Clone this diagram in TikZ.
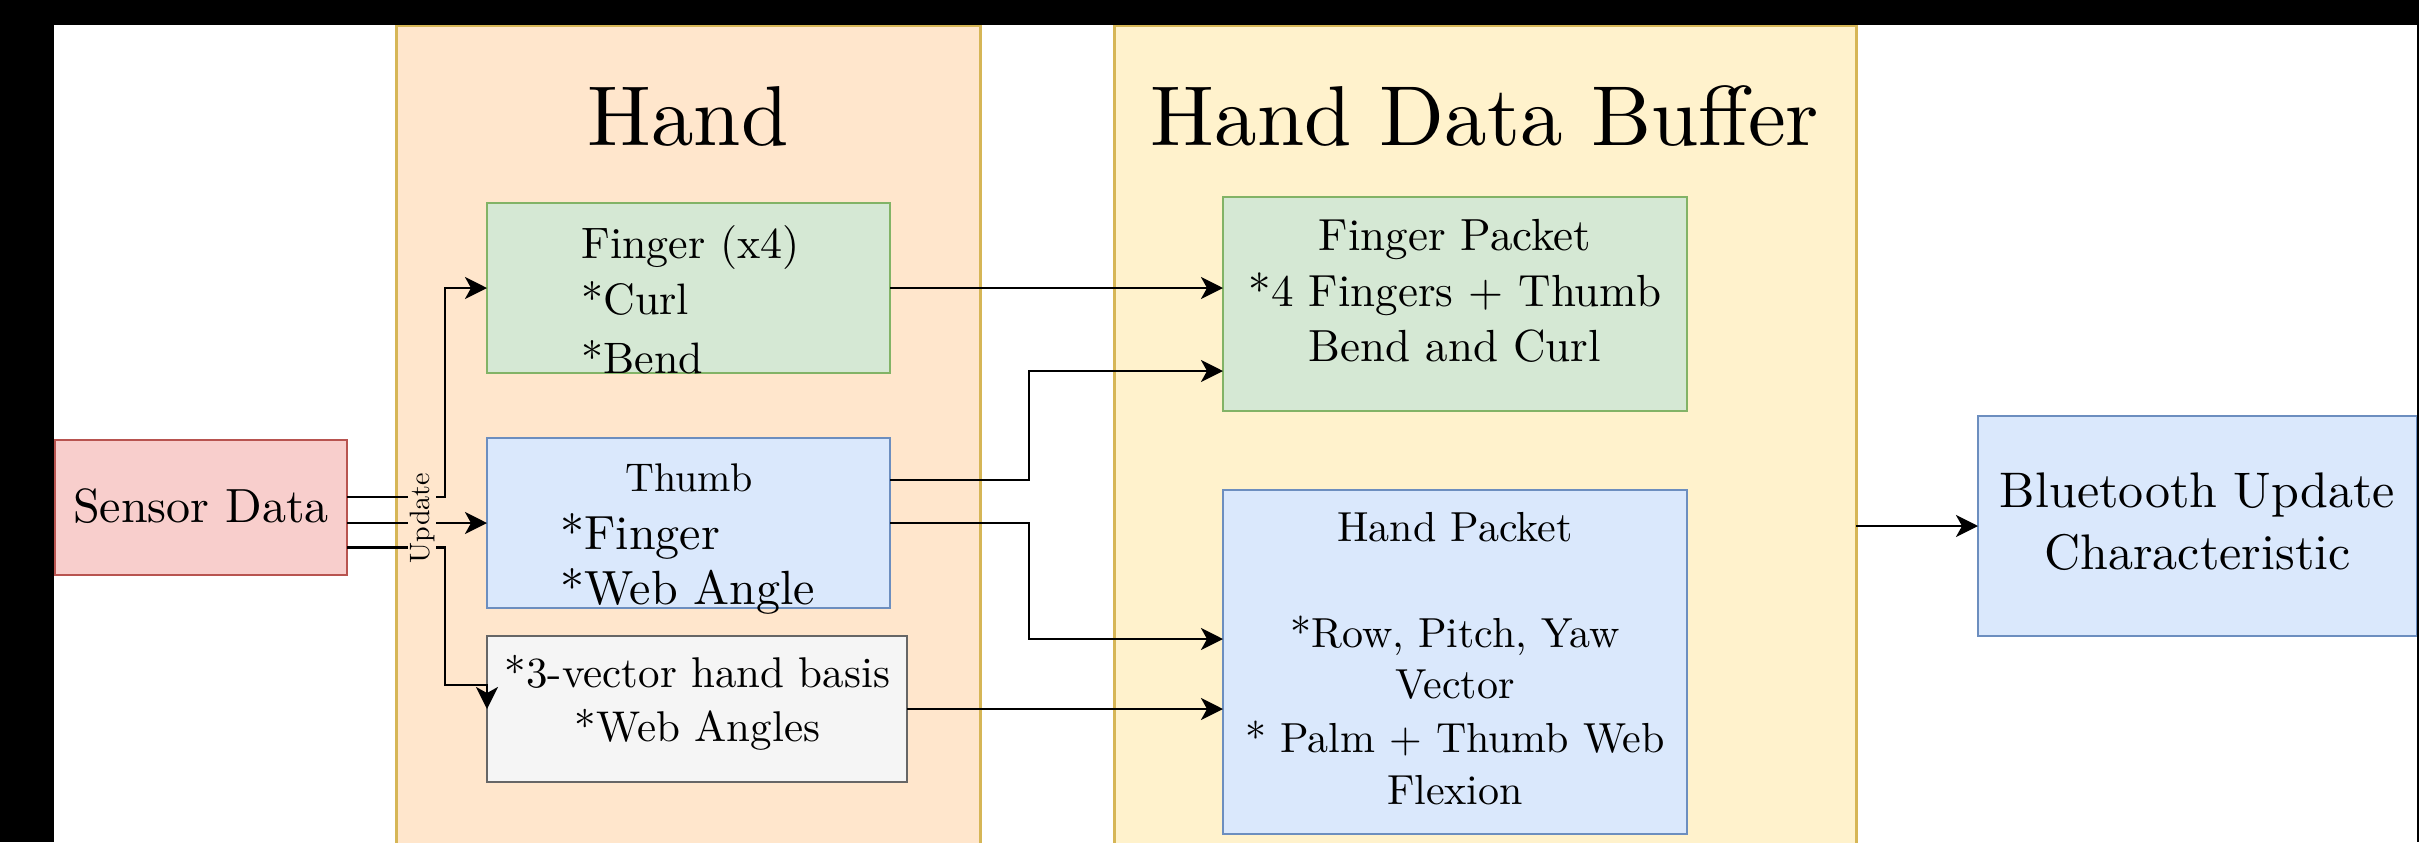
\documentclass[tikz,border=0pt]{standalone}
\usepackage{fontspec}
\setmainfont{lmroman10-regular}[Extension=.otf]
\usetikzlibrary{arrows.meta,calc}
\definecolor{handfill}{HTML}{FFE6CC}
\definecolor{bufffill}{HTML}{FFF2CC}
\definecolor{contdraw}{HTML}{D6B656}
\definecolor{greenfill}{HTML}{D5E8D4}
\definecolor{greendraw}{HTML}{82B366}
\definecolor{bluefill}{HTML}{DAE8FC}
\definecolor{bluedraw}{HTML}{6C8EBF}
\definecolor{redfill}{HTML}{F8CECC}
\definecolor{reddraw}{HTML}{B85450}
\definecolor{grayfill}{HTML}{F5F5F5}
\definecolor{graydraw}{HTML}{666666}
\newcommand{\fs}[1]{\fontsize{#1pt}{#1pt}\selectfont}
\tikzset{
  box/.style={rectangle, inner sep=0pt, outer sep=0pt, line width=1pt},
  cont/.style={box, line width=1.5pt, draw=contdraw},
  greenbox/.style={box, draw=greendraw, fill=greenfill},
  bluebox/.style={box, draw=bluedraw, fill=bluefill},
  redbox/.style={box, draw=reddraw, fill=redfill},
  graybox/.style={box, draw=graydraw, fill=grayfill},
  conn/.style={line width=1.4pt, -{Stealth[length=11pt,width=11pt,inset=3pt]}},
  txt/.style={anchor=base, inner sep=0pt},
  ltxt/.style={anchor=base west, inner sep=0pt},
}
\begin{document}
\begin{tikzpicture}[x=0.5pt,y=-0.5pt]
\clip (0,0) rectangle (2419,842);
\fill[white] (0,0) rectangle (2419,842);
% containers
\node[cont, fill=handfill, minimum width=292pt, minimum height=427.5pt] (hand) at (688,452.5) {};
\node[cont, fill=bufffill, minimum width=371pt, minimum height=427.5pt] (hdb) at (1485,452.5) {};
\node[txt, font={\fs{42.5}}] (handtitle) at (688,145) {Hand};
\node[txt, font={\fs{42.5}}] (hdbtitle) at (1485,145) {Hand Data Buffer};
% boxes
\node[redbox, minimum width=146pt, minimum height=67.5pt] (sensor) at (201,507.5) {};
\node[txt, font={\fs{24}}] (sensortxt) at (201,522) {Sensor Data};

\node[greenbox, minimum width=201.5pt, minimum height=85pt] (finger) at (688.5,288) {};
\node[ltxt, font={\fs{22}}] (f1) at (581,258) {Finger (x4)};
\node[ltxt, font={\fs{22}}] (f2) at (581,314) {*Curl};
\node[ltxt, font={\fs{22}}] (f3) at (581,373) {*Bend};

\node[bluebox, minimum width=201.5pt, minimum height=85pt] (thumb) at (688.5,523) {};
\node[txt, font={\fs{20}}] (t1txt) at (689,491) {Thumb};
\node[ltxt, font={\fs{24}}] (t2txt) at (560,549) {*Finger};
\node[ltxt, font={\fs{24}}] (t3txt) at (560,604) {*Web Angle};

\node[graybox, minimum width=210pt, minimum height=73pt] (gray) at (697,709) {};
\node[txt, font={\fs{21.5}}] (g1) at (697.5,687) {*3-vector hand basis};
\node[txt, font={\fs{21.5}}] (g2) at (697.5,741) {*Web Angles};

\node[greenbox, minimum width=232pt, minimum height=107pt] (fp) at (1455,304) {};
\node[txt, font={\fs{22.5}}] (fp1) at (1455,250) {Finger Packet};
\node[txt, font={\fs{22.5}}] (fp2) at (1455,306) {*4 Fingers + Thumb};
\node[txt, font={\fs{22.5}}] (fp3) at (1455,361) {Bend and Curl};

\node[bluebox, minimum width=232pt, minimum height=172pt] (hp) at (1455,662) {};
\node[txt, font={\fs{21}}] (hp1) at (1455,541) {Hand Packet};
\node[txt, font={\fs{21}}] (hp2) at (1455,647) {*Row, Pitch, Yaw};
\node[txt, font={\fs{21}}] (hp3) at (1455,698) {Vector};
\node[txt, font={\fs{21}}] (hp4) at (1455,752) {* Palm + Thumb Web};
\node[txt, font={\fs{21}}] (hp5) at (1455,804) {Flexion};

\node[bluebox, minimum width=219.5pt, minimum height=110pt] (bt) at (2197.5,526) {};
\node[txt, font={\fs{25}}] (bt1) at (2197.5,507) {Bluetooth Update};
\node[txt, font={\fs{25}}] (bt2) at (2197.5,569) {Characteristic};

% connectors
\coordinate (s1) at ($(sensor.east)+(0,-10.5)$);
\coordinate (s2) at ($(sensor.east)+(0,15.5)$);
\coordinate (s3) at ($(sensor.east)+(0,40)$);
\coordinate (vx) at (445,0);
\coordinate (bend3) at (445,685);
\draw[conn] (s1) -- (s1 -| vx) |- (finger.west);
\draw[conn] (s2) -- (s2 -| thumb.west);
\draw[conn] (s3) -| (bend3) -| (gray.west);
\node[rotate=90, fill=handfill, inner sep=1pt, font={\fs{14}}] (upd) at (422,518) {Update};

\coordinate (jx) at (1029,0);
\coordinate (t1) at ($(thumb.east)+(0,-43)$);
\coordinate (fpin) at ($(fp.west)+(0,67)$);
\coordinate (hpin) at ($(hp.west)+(0,-23)$);
\draw[conn] (finger.east) -- (finger.east -| fp.west);
\draw[conn] (t1) -- (t1 -| jx) |- (fpin);
\draw[conn] (thumb.east) -- (thumb.east -| jx) |- (hpin);
\draw[conn] (gray.east) -- (gray.east -| hp.west);
\draw[conn] (hdb.east |- bt.west) -- (bt.west);

% black frame bars
\fill[black] (0,0) rectangle (2419,25);
\fill[black] (0,0) rectangle (54,842);
\fill[black] (2417,0) rectangle (2419,842);
\end{tikzpicture}
\end{document}
